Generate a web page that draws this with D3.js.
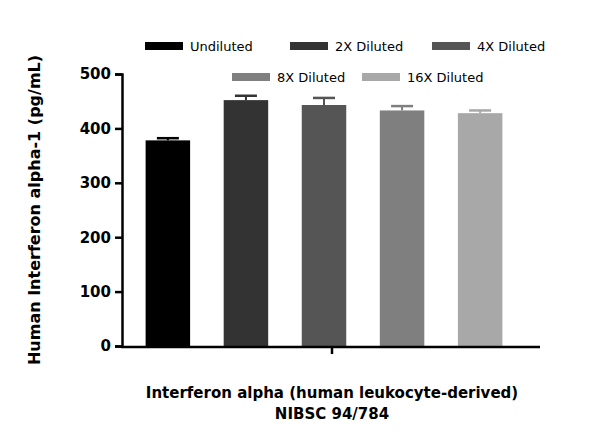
<!DOCTYPE html>
<html><head><meta charset="utf-8">
<script src="https://cdn.jsdelivr.net/npm/d3@7"></script>
<style>body{margin:0;background:#fff}text{font-family:"DejaVu Sans",sans-serif}</style>
</head><body><svg width="600" height="435"></svg>
<script>
// data
const groups = ["Undiluted","2X Diluted","4X Diluted","8X Diluted","16X Diluted"];
const means = [378, 452, 443, 433, 428];
const errs = [4, 8, 13, 8, 5];
const colors = ["#000000","#333333","#555555","#7f7f7f","#a8a8a8"];
const yTicks = [0,100,200,300,400,500];

const svg = d3.select("svg");
const x = d3.scaleBand().domain(groups).range([130, 518]).paddingInner(0.43).paddingOuter(0.2);
const y = d3.scaleLinear().domain([0,500]).range([346,74]);

// bars
svg.selectAll("rect.bar").data(groups).join("rect")
  .attr("x", d => x(d)).attr("width", x.bandwidth())
  .attr("y", (d,i) => y(means[i])).attr("height", (d,i) => y(0)-y(means[i]))
  .attr("fill", (d,i) => colors[i]);

// error bars (upper only)
groups.forEach((g,i) => {
  const cx = x(g) + x.bandwidth()/2;
  svg.append("line").attr("x1",cx).attr("x2",cx).attr("y1",y(means[i])).attr("y2",y(means[i]+errs[i]))
    .attr("stroke",colors[i]).attr("stroke-width",2);
  svg.append("line").attr("x1",cx-11).attr("x2",cx+11).attr("y1",y(means[i]+errs[i])).attr("y2",y(means[i]+errs[i]))
    .attr("stroke",colors[i]).attr("stroke-width",2.5);
});

// y axis
const ya = svg.append("g").attr("transform","translate(122,0)")
  .call(d3.axisLeft(y).tickValues(yTicks).tickSize(7).tickPadding(4));
ya.select(".domain").attr("stroke-width",2.5);
ya.selectAll(".tick line").attr("stroke-width",2.5);
ya.selectAll("text").attr("font-size",15).attr("font-weight","bold").attr("fill","#000");

// x axis
svg.append("line").attr("x1",121).attr("x2",540).attr("y1",347).attr("y2",347).attr("stroke","#000").attr("stroke-width",2.5);
svg.append("line").attr("x1",332).attr("x2",332).attr("y1",347).attr("y2",354).attr("stroke","#000").attr("stroke-width",2.5);

// titles
svg.append("text").attr("transform","translate(40,210) rotate(-90)").attr("text-anchor","middle")
  .attr("font-size",16).attr("font-weight","bold").text("Human Interferon alpha-1 (pg/mL)");
svg.append("text").attr("x",332).attr("y",398).attr("text-anchor","middle")
  .attr("font-size",15).attr("font-weight","bold").text("Interferon alpha (human leukocyte-derived)");
svg.append("text").attr("x",332).attr("y",419).attr("text-anchor","middle")
  .attr("font-size",15).attr("font-weight","bold").text("NIBSC 94/784");

// legend
const legPos = [[145,46],[290,46],[432,46],[232,77],[362,77]];
groups.forEach((g,i) => {
  const [lx,ly] = legPos[i];
  svg.append("rect").attr("x",lx).attr("y",ly-4).attr("width",38).attr("height",8).attr("fill",colors[i]);
  svg.append("text").attr("x",lx+45).attr("y",ly+5).attr("font-size",13).text(g);
});
</script></body></html>
